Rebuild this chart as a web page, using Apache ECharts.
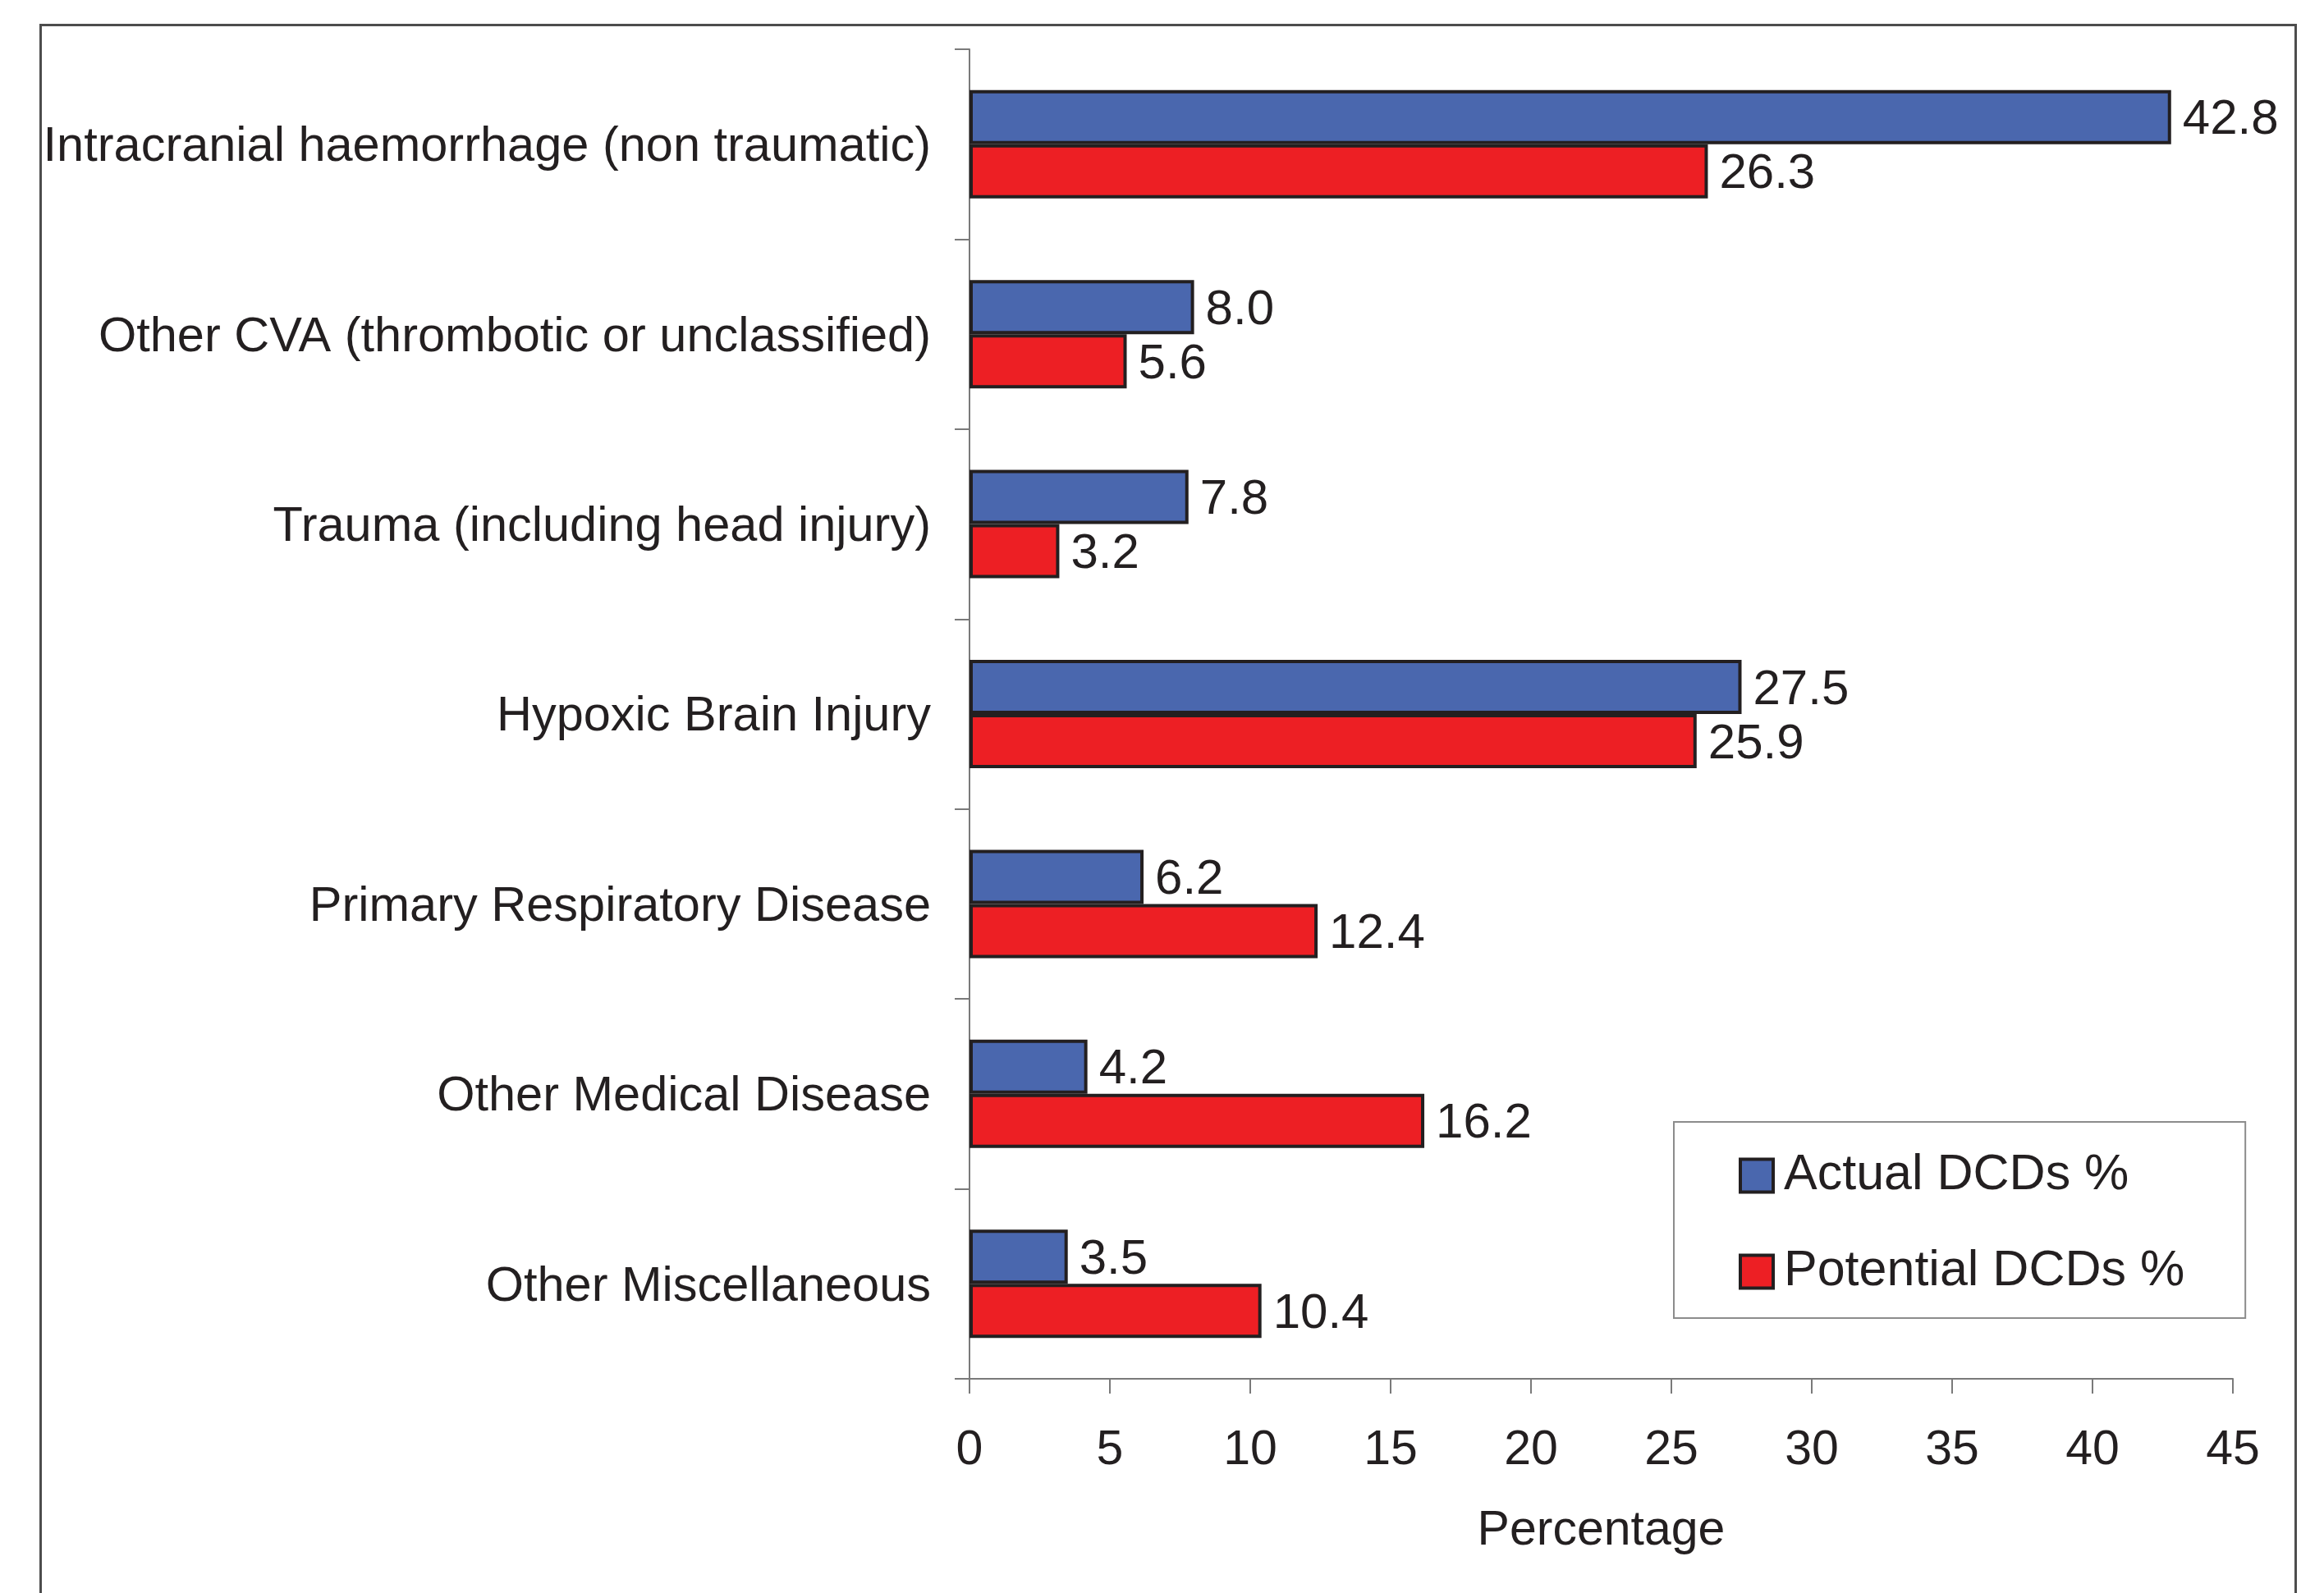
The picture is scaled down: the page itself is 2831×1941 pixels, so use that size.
<!DOCTYPE html>
<html>
<head>
<meta charset="utf-8">
<script src="https://cdn.jsdelivr.net/npm/echarts@6/dist/echarts.min.js"></script>
<style>
html,body{margin:0;padding:0;background:#fff;}
#chart{width:2831px;height:1941px;}
</style>
</head>
<body>
<div id="chart"></div>
<script>
const categories = [
  'Intracranial haemorrhage (non traumatic)',
  'Other CVA (thrombotic or unclassified)',
  'Trauma (including head injury)',
  'Hypoxic Brain Injury',
  'Primary Respiratory Disease',
  'Other Medical Disease',
  'Other Miscellaneous'
];
const actualDCDs = [42.8, 8.0, 7.8, 27.5, 6.2, 4.2, 3.5];
const potentialDCDs = [26.3, 5.6, 3.2, 25.9, 12.4, 16.2, 10.4];
const xTicks = [0, 5, 10, 15, 20, 25, 30, 35, 40, 45];

const FONT = '"Liberation Sans", Arial, Helvetica, sans-serif';
const TXT = '#231f20';

const chart = echarts.init(document.getElementById('chart'), null, {renderer: 'canvas'});
const labelCfg = {
  show: true,
  position: 'right',
  distance: 14,
  offset: [0, 4],
  color: TXT,
  fontFamily: FONT,
  fontSize: 60,
  formatter: p => Number(p.value).toFixed(1)
};
chart.setOption({
  animation: false,
  backgroundColor: '#fff',
  graphic: [{
    type: 'rect',
    left: 47, top: 28,
    shape: {width: 2747, height: 2000},
    style: {fill: 'none', stroke: '#4d4d4d', lineWidth: 3},
    silent: true
  }],
  grid: {left: 1181, right: 111, top: 60, bottom: 261, containLabel: false},
  legend: {
    orient: 'vertical',
    left: 2039,
    top: 1367,
    padding: [35, 74, 26, 79],
    itemGap: 56,
    itemWidth: 40,
    itemHeight: 40,
    borderColor: '#8c8c8c',
    borderWidth: 2,
    backgroundColor: '#fff',
    icon: 'rect',
    itemStyle: {borderColor: '#231f20', borderWidth: 4},
    textStyle: {fontFamily: FONT, fontSize: 61, color: TXT, lineHeight: 40, padding: [0, 0, 0, 8]},
    data: ['Actual DCDs %', 'Potential DCDs %']
  },
  xAxis: {
    type: 'value',
    min: xTicks[0],
    max: xTicks[xTicks.length - 1],
    interval: 5,
    name: 'Percentage',
    nameLocation: 'middle',
    nameGap: 156,
    nameTextStyle: {fontFamily: FONT, fontSize: 59, color: TXT, verticalAlign: 'top'},
    axisLine: {show: true, lineStyle: {color: '#7a7a7a', width: 2}},
    axisTick: {show: true, length: 18, lineStyle: {color: '#7a7a7a', width: 2}},
    axisLabel: {fontFamily: FONT, fontSize: 59, color: TXT, margin: 58},
    splitLine: {show: false}
  },
  yAxis: {
    type: 'category',
    inverse: true,
    data: categories,
    axisLine: {show: true, lineStyle: {color: '#7a7a7a', width: 2}},
    axisTick: {show: true, length: 18, lineStyle: {color: '#7a7a7a', width: 2}},
    axisLabel: {
      margin: 47,
      formatter: v => '{c|' + v + '}',
      rich: {c: {fontFamily: FONT, fontSize: 59.5, color: TXT, padding: [8, 0, 0, 0]}}
    }
  },
  series: [
    {
      name: 'Actual DCDs %',
      type: 'bar',
      data: actualDCDs,
      barWidth: 66,
      barGap: '0%',
      itemStyle: {color: '#4a67ae', borderColor: '#231f20', borderWidth: 4},
      label: labelCfg
    },
    {
      name: 'Potential DCDs %',
      type: 'bar',
      data: potentialDCDs,
      barWidth: 66,
      barGap: '0%',
      itemStyle: {color: '#ed1f24', borderColor: '#231f20', borderWidth: 4},
      label: labelCfg
    }
  ]
});
</script>
</body>
</html>
